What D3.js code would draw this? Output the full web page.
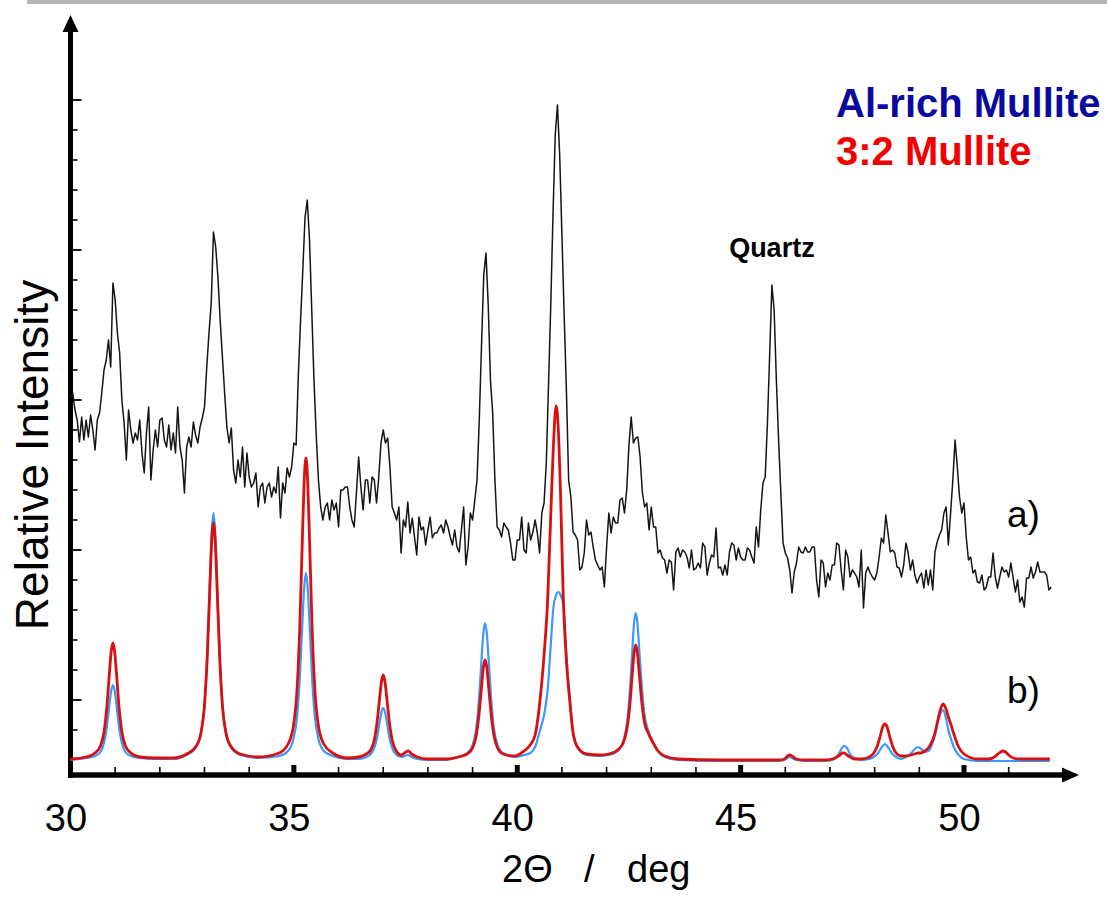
<!DOCTYPE html>
<html>
<head>
<meta charset="utf-8">
<script src="https://cdn.jsdelivr.net/npm/d3@7"></script>
<style>
  html, body { margin: 0; padding: 0; background: #fff; }
  svg { display: block; }
</style>
</head>
<body>
<svg id="chart" width="1107" height="899"></svg>
<script>
// XRD pattern: a) measured sample, b) simulated Al-rich and 3:2 mullite

// a) measured trace, one reading every 0.05 deg starting at 30.00 deg
const MEAS_START = 30
const MEAS_STEP = 0.05
const measured = [
  378, 382, 365, 355, 333, 358, 335, 355, 338, 360,
  345, 325, 355, 362, 382, 405, 415, 435, 408, 492,
  475, 442, 422, 375, 352, 315, 365, 345, 332, 342,
  335, 355, 322, 302, 342, 368, 295, 325, 345, 328,
  355, 357, 335, 328, 350, 325, 342, 322, 368, 328,
  315, 282, 328, 338, 328, 353, 340, 332, 348, 357,
  368, 408, 442, 472, 543, 528, 498, 455, 418, 382,
  348, 332, 347, 305, 292, 315, 298, 328, 288, 322,
  298, 288, 292, 302, 268, 288, 292, 272, 288, 292,
  278, 288, 282, 308, 257, 292, 282, 307, 298, 308,
  332, 330, 400, 455, 505, 558, 575, 535, 465, 395,
  340, 295, 268, 255, 268, 272, 255, 275, 265, 272,
  248, 285, 285, 288, 288, 268, 255, 248, 282, 318,
  288, 265, 295, 295, 272, 298, 295, 272, 298, 332,
  345, 332, 337, 308, 268, 262, 255, 268, 222, 255,
  248, 273, 242, 257, 238, 220, 258, 245, 248, 230,
  245, 258, 237, 242, 242, 247, 250, 242, 255, 248,
  238, 230, 245, 228, 223, 245, 268, 210, 228, 262,
  255, 275, 295, 355, 430, 500, 522, 470, 395, 362,
  295, 248, 245, 238, 252, 248, 245, 232, 215, 215,
  235, 235, 258, 225, 222, 252, 235, 243, 255, 242,
  222, 262, 272, 312, 390, 470, 560, 640, 670, 620,
  540, 460, 385, 295, 278, 243, 240, 235, 205, 208,
  222, 255, 240, 243, 228, 215, 210, 205, 208, 188,
  228, 262, 242, 258, 252, 252, 275, 277, 262, 285,
  330, 358, 332, 337, 338, 318, 283, 268, 272, 245,
  268, 248, 248, 222, 225, 217, 215, 202, 215, 213,
  185, 223, 227, 218, 225, 223, 218, 207, 225, 205,
  207, 212, 207, 232, 228, 200, 212, 220, 218, 247,
  207, 208, 200, 210, 200, 223, 232, 230, 215, 227,
  218, 215, 215, 227, 225, 218, 212, 248, 228, 265,
  292, 298, 352, 420, 490, 465, 395, 335, 282, 232,
  222, 217, 205, 182, 203, 212, 228, 223, 222, 228,
  223, 223, 228, 228, 195, 178, 215, 212, 188, 202,
  195, 210, 210, 232, 230, 205, 185, 225, 218, 198,
  205, 202, 198, 188, 225, 167, 202, 208, 202, 198,
  195, 202, 218, 237, 232, 260, 242, 223, 225, 222,
  208, 207, 198, 210, 232, 222, 205, 215, 200, 192,
  198, 202, 187, 205, 190, 205, 185, 223, 233, 240,
  245, 262, 268, 230, 262, 295, 335, 308, 278, 262,
  272, 238, 215, 218, 202, 205, 193, 192, 200, 185,
  188, 198, 198, 222, 198, 187, 198, 208, 203, 205,
  198, 212, 197, 183, 195, 173, 178, 168, 197, 197,
  208, 197, 203, 213, 203, 203, 203, 200, 185, 188
]

// b) simulated patterns, sampled at the angles below
const simTheta = [
  30.00, 30.35, 30.55, 30.67, 30.75, 30.81, 30.87, 30.91, 30.95, 30.99,
  31.03, 31.09, 31.15, 31.23, 31.35, 31.55, 31.90, 32.30, 32.60, 32.80,
  32.92, 33.00, 33.06, 33.12, 33.16, 33.20, 33.24, 33.28, 33.34, 33.40,
  33.48, 33.60, 33.80, 34.20, 34.67, 34.87, 34.99, 35.07, 35.13, 35.19,
  35.23, 35.27, 35.31, 35.35, 35.41, 35.47, 35.55, 35.67, 35.87, 36.20,
  36.45, 36.62, 36.72, 36.80, 36.86, 36.92, 36.96, 37.00, 37.04, 37.08,
  37.14, 37.20, 37.28, 37.40, 37.48, 37.56, 37.64, 37.76, 38.00, 38.40,
  38.68, 38.88, 39.00, 39.08, 39.14, 39.20, 39.24, 39.28, 39.32, 39.36,
  39.42, 39.48, 39.56, 39.68, 39.95, 40.15, 40.29, 40.40, 40.51, 40.60,
  40.68, 40.75, 40.81, 40.87, 40.92, 40.97, 41.03, 41.10, 41.18, 41.25,
  41.35, 41.55, 41.85, 42.05, 42.25, 42.37, 42.45, 42.51, 42.57, 42.61,
  42.65, 42.69, 42.73, 42.79, 42.85, 42.93, 43.03, 43.15, 43.30, 43.60,
  44.50, 45.50, 45.85, 45.98, 46.05, 46.10, 46.15, 46.25, 46.45, 46.90,
  47.05, 47.15, 47.22, 47.28, 47.32, 47.38, 47.45, 47.55, 47.70, 47.88,
  47.98, 48.06, 48.12, 48.18, 48.23, 48.28, 48.34, 48.40, 48.48, 48.58,
  48.70, 48.82, 48.90, 48.97, 49.04, 49.12, 49.20, 49.28, 49.35, 49.41,
  49.47, 49.53, 49.59, 49.65, 49.71, 49.78, 49.88, 50.00, 50.30, 50.55,
  50.68, 50.76, 50.82, 50.87, 50.93, 51.00, 51.10, 51.25, 51.92
]
const simAlRich = [
  15, 17, 19, 23, 32, 47, 70, 84, 90, 84,
  70, 47, 32, 23, 19, 17, 16, 16, 20, 27,
  42, 72, 121, 195, 242, 262, 242, 195, 121, 72,
  42, 27, 20, 17, 19, 24, 36, 58, 95, 152,
  187, 202, 187, 152, 95, 58, 36, 24, 19, 16,
  16, 18, 21, 27, 37, 53, 63, 67, 63, 53,
  37, 27, 21, 18, 19, 20, 18, 16, 15, 15,
  18, 22, 30, 46, 74, 115, 141, 152, 141, 115,
  74, 46, 30, 22, 18, 20, 22, 28, 45, 60,
  85, 130, 168, 180, 183, 180, 170, 120, 75, 42,
  27, 20, 19, 20, 24, 33, 50, 78, 120, 150,
  162, 152, 126, 88, 60, 45, 34, 24, 18, 15,
  14, 14, 14, 15, 17, 18, 17, 15, 14, 14,
  15, 18, 23, 28, 29, 27, 21, 17, 15, 16,
  18, 21, 25, 29, 31, 29, 25, 21, 18, 16,
  18, 22, 26, 28, 26, 23, 24, 30, 40, 52,
  61, 65, 58, 45, 36, 27, 20, 16, 14, 14,
  14, 14, 14, 14, 14, 14, 14, 14, 14
]
const sim32 = [
  16, 18, 22, 29, 43, 66, 101, 123, 132, 123,
  101, 66, 43, 29, 22, 18, 17, 17, 21, 28,
  42, 70, 117, 188, 233, 252, 233, 188, 117, 70,
  42, 28, 21, 18, 22, 31, 49, 85, 145, 236,
  293, 317, 293, 236, 145, 85, 49, 31, 22, 17,
  18, 21, 25, 35, 52, 77, 93, 100, 93, 77,
  52, 35, 25, 20, 22, 24, 21, 18, 16, 16,
  18, 21, 27, 39, 59, 88, 107, 115, 107, 88,
  59, 39, 27, 21, 19, 24, 30, 40, 75, 120,
  175, 260, 330, 369, 345, 280, 178, 115, 72, 42,
  28, 21, 20, 21, 25, 32, 45, 65, 98, 120,
  130, 122, 102, 72, 52, 42, 33, 24, 19, 16,
  15, 15, 15, 16, 19, 20, 19, 16, 15, 15,
  16, 18, 20, 22, 22, 20, 18, 16, 16, 18,
  22, 29, 38, 48, 51, 48, 38, 29, 22, 19,
  19, 20, 21, 22, 22, 24, 27, 33, 42, 54,
  65, 71, 67, 58, 50, 40, 28, 21, 16, 16,
  18, 21, 23, 24, 23, 20, 17, 16, 16
]

const xMajorTicks = [30, 35, 40, 45, 50]
const xMinorTicks = [31, 32, 33, 34, 36, 37, 38, 39, 41, 42, 43, 44, 46, 47, 48, 49, 51]
const yMajorTicks = [75, 225, 375, 525, 675]
const yMinorTicks = [45, 105, 135, 165, 195, 255, 285, 315, 345, 405, 435, 465, 495, 555, 585, 615, 645]

const FONT = '"Liberation Sans", Arial, Helvetica, sans-serif'

const svg = d3.select('#chart')
  .style('font-family', FONT)

const x = d3.scaleLinear().domain([30, 50]).range([70.5, 964])
const y = d3.scaleLinear().domain([0, 757]).range([775, 18])

// grey strip along the top edge
svg.append('rect')
  .attr('x', 27).attr('y', 0)
  .attr('width', 1080).attr('height', 4)
  .attr('fill', '#b5b5b5')

const x0 = x(30)
const yAxisY = y(0)

// axes with arrow heads
svg.append('line')
  .attr('x1', x0).attr('y1', yAxisY + 3)
  .attr('x2', x0).attr('y2', 30)
  .attr('stroke', '#000').attr('stroke-width', 5)
svg.append('path')
  .attr('d', `M${x0 - 8},32 L${x0},15 L${x0 + 8},32 Z`)
  .attr('fill', '#000')

svg.append('line')
  .attr('x1', x0 - 2.5).attr('y1', yAxisY)
  .attr('x2', 1064).attr('y2', yAxisY)
  .attr('stroke', '#000').attr('stroke-width', 5.5)
svg.append('path')
  .attr('d', `M1062,${yAxisY - 7.5} L1079,${yAxisY} L1062,${yAxisY + 7.5} Z`)
  .attr('fill', '#000')

// x ticks point up into the plot
xMinorTicks.forEach(t => {
  svg.append('line')
    .attr('x1', x(t)).attr('x2', x(t))
    .attr('y1', yAxisY - 2).attr('y2', yAxisY - 8)
    .attr('stroke', '#000').attr('stroke-width', 1.6)
})
xMajorTicks.forEach(t => {
  svg.append('line')
    .attr('x1', x(t)).attr('x2', x(t))
    .attr('y1', yAxisY - 2).attr('y2', yAxisY - 10)
    .attr('stroke', '#000').attr('stroke-width', 5)
})

// y ticks on the right of the axis
yMinorTicks.forEach(t => {
  svg.append('line')
    .attr('x1', x0 + 2).attr('x2', x0 + 7)
    .attr('y1', y(t)).attr('y2', y(t))
    .attr('stroke', '#000').attr('stroke-width', 1.6)
})
yMajorTicks.forEach(t => {
  svg.append('line')
    .attr('x1', x0 + 2).attr('x2', x0 + 11)
    .attr('y1', y(t)).attr('y2', y(t))
    .attr('stroke', '#000').attr('stroke-width', 1.8)
})

// tick labels via d3 axis
const xAxis = svg.append('g')
  .attr('transform', `translate(0, ${yAxisY})`)
  .call(d3.axisBottom(x).tickValues(xMajorTicks).tickSize(0).tickPadding(0).tickFormat(d3.format('d')))
xAxis.select('.domain').remove()
xAxis.selectAll('text')
  .attr('y', 56).attr('dy', null).attr('dx', -5)
  .attr('font-size', '38px').attr('font-family', FONT).attr('fill', '#000')

// measured trace
const measLine = d3.line()
  .x((d, i) => x(MEAS_START + i * MEAS_STEP))
  .y(d => y(d))

svg.append('path')
  .datum(measured)
  .attr('d', measLine)
  .attr('fill', 'none')
  .attr('stroke', '#151515')
  .attr('stroke-width', 1.5)
  .attr('stroke-linejoin', 'round')

// simulated patterns
const simLine = d3.line()
  .x((d, i) => x(simTheta[i]))
  .y(d => y(d))
  .curve(d3.curveMonotoneX)

svg.append('path')
  .datum(simAlRich)
  .attr('d', simLine)
  .attr('fill', 'none')
  .attr('stroke', '#3c97ff')
  .attr('stroke-width', 2.2)

svg.append('path')
  .datum(sim32)
  .attr('d', simLine)
  .attr('fill', 'none')
  .attr('stroke', '#d81010')
  .attr('stroke-width', 2.8)

// legend
svg.append('text')
  .attr('x', 836).attr('y', 117)
  .attr('font-size', '40px').attr('font-weight', 'bold')
  .attr('fill', '#0a0aa0')
  .text('Al-rich Mullite')
svg.append('text')
  .attr('x', 836).attr('y', 165)
  .attr('font-size', '40px').attr('font-weight', 'bold')
  .attr('fill', '#f00000')
  .text('3:2 Mullite')

// annotations
svg.append('text')
  .attr('x', x(45.7)).attr('y', 257)
  .attr('text-anchor', 'middle')
  .attr('font-size', '27px').attr('font-weight', 'bold')
  .attr('fill', '#000')
  .text('Quartz')

svg.append('text')
  .attr('x', 1007).attr('y', 527)
  .attr('font-size', '37px').attr('fill', '#000')
  .text('a)')
svg.append('text')
  .attr('x', 1007).attr('y', 703)
  .attr('font-size', '37px').attr('fill', '#000')
  .text('b)')

// axis titles
svg.append('text')
  .attr('transform', 'translate(48, 455) rotate(-90)')
  .attr('text-anchor', 'middle')
  .attr('font-size', '46px').attr('fill', '#000')
  .text('Relative Intensity')

const xTitle = svg.append('text')
  .attr('y', 882)
  .attr('font-size', '38px').attr('fill', '#000')
xTitle.append('tspan').attr('x', 502).text('2Θ')
xTitle.append('tspan').attr('x', 584).text('/')
xTitle.append('tspan').attr('x', 627).text('deg')
</script>
</body>
</html>
